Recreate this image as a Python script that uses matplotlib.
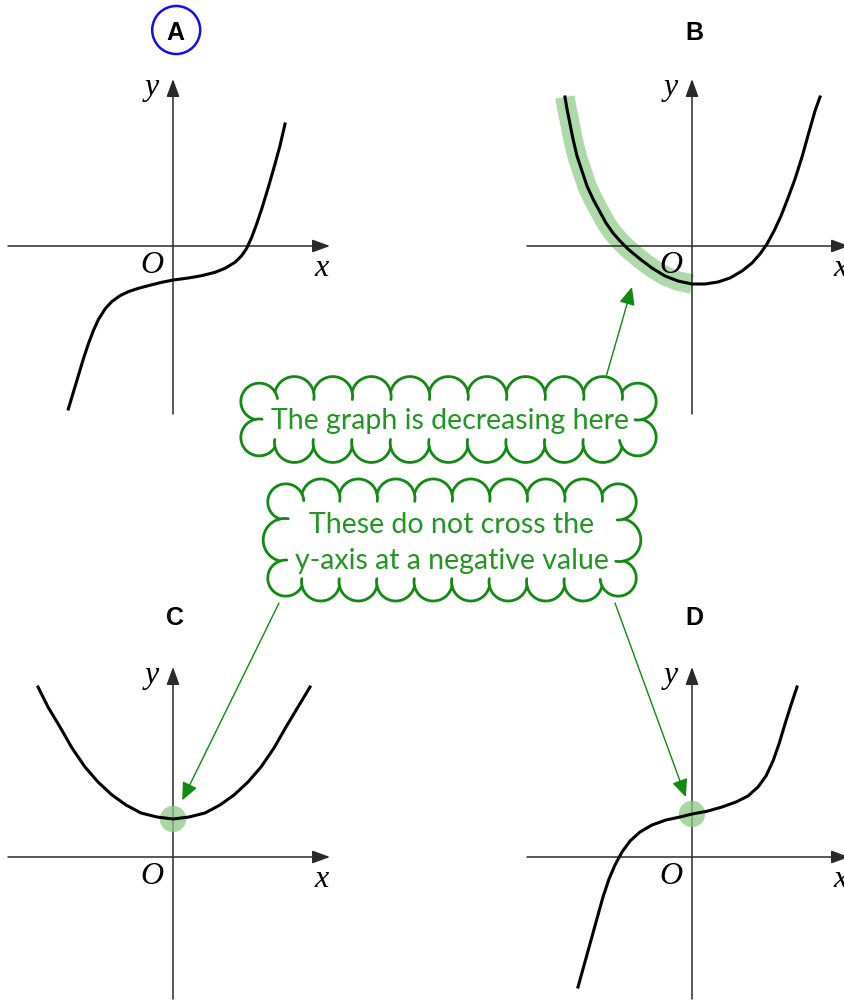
import matplotlib
matplotlib.use("Agg")
import matplotlib.pyplot as plt
import numpy as np
from matplotlib.patches import Circle

W, H = 845, 1003
PX_PER_UNIT = 40

# curve points (units: 40 px, origin where the axes cross)
a_x = [-2.617, -2.492, -2.367, -2.242, -2.117, -1.992, -1.867, -1.7, -1.533, -1.325,
       -1.117, -0.867, -0.617, -0.283, 0.008, 0.383, 0.717, 1.05, 1.3, 1.55,
       1.717, 1.842, 1.967, 2.092, 2.217, 2.383, 2.55, 2.675, 2.8]
a_y = [-4.075, -3.658, -3.242, -2.825, -2.45, -2.117, -1.842, -1.575, -1.392, -1.242,
       -1.142, -1.058, -0.992, -0.908, -0.85, -0.8, -0.742, -0.658, -0.558, -0.408,
       -0.242, -0.058, 0.217, 0.55, 0.925, 1.467, 2.05, 2.508, 3.05]

b_x = [-3.175, -3.125, -3.05, -2.975, -2.875, -2.75, -2.625, -2.475, -2.3, -2.15,
       -1.975, -1.8, -1.6, -1.3, -1.0, -0.675, -0.35, 0.0, 0.325, 0.65,
       0.95, 1.25, 1.5, 1.7, 1.875, 2.05, 2.225, 2.4, 2.575, 2.75,
       2.925, 3.075, 3.2]
b_y = [3.725, 3.425, 3.05, 2.675, 2.25, 1.875, 1.5, 1.175, 0.85, 0.575,
       0.325, 0.125, -0.075, -0.325, -0.55, -0.75, -0.875, -0.95, -0.95, -0.9,
       -0.8, -0.625, -0.425, -0.2, 0.05, 0.375, 0.75, 1.2, 1.675, 2.225,
       2.85, 3.375, 3.725]
b_decreasing = 18  # points up to the y-axis

c_x = [-3.375, -3.125, -2.825, -2.525, -2.2, -1.875, -1.525, -1.175, -0.8, -0.4, 0.0,
       0.4, 0.8, 1.175, 1.525, 1.875, 2.2, 2.525, 2.825, 3.125, 3.425]
c_y = [4.25, 3.75, 3.25, 2.725, 2.25, 1.875, 1.55, 1.3, 1.1, 1.0, 0.95,
       1.0, 1.1, 1.3, 1.55, 1.875, 2.25, 2.725, 3.25, 3.75, 4.25]

d_x = [-2.85, -2.725, -2.6, -2.475, -2.35, -2.225, -2.075, -1.925, -1.75, -1.55,
       -1.3, -1.0, -0.65, -0.3, 0.0, 0.4, 0.75, 1.1, 1.4, 1.65,
       1.85, 2.025, 2.175, 2.325, 2.475, 2.625]
d_y = [-3.25, -2.8, -2.35, -1.9, -1.45, -1.0, -0.55, -0.2, 0.125, 0.4,
       0.625, 0.8, 0.925, 1.0, 1.075, 1.15, 1.25, 1.375, 1.525, 1.75,
       2.025, 2.4, 2.825, 3.325, 3.8, 4.25]

c_intercept = (0.0, 0.95)
d_intercept = (0.0, 1.075)
b_pointer = 13  # index on curve B that the first callout points at

labels = ["A", "B", "C", "D"]
cloud1_text = "The graph is decreasing here"
cloud2_text = "These do not cross the\ny-axis at a negative value"

GREEN = "#108a10"
TEXT_GREEN = "#229622"
HILITE = "#8cc985"
SERIF = ["Liberation Serif", "DejaVu Serif"]
CLOUD_FONT = ["Lato", "DejaVu Sans"]


def panel_axes(fig, ox, oy):
    left = ox - 4.5 * PX_PER_UNIT
    bottom = oy + 4.5 * PX_PER_UNIT
    ax = fig.add_axes([left / W, (H - bottom) / H, 9 * PX_PER_UNIT / W, 11 * PX_PER_UNIT / H])
    ax.set_xlim(-4.5, 4.5)
    ax.set_ylim(-4.5, 6.5)
    ax.axis("off")
    return ax


def draw_axes(ax, y_lo, y_hi):
    style = "-|>,head_length=0.9,head_width=0.33"
    kw = dict(arrowstyle=style, color="#2a2a2a", lw=1.1, mutation_scale=12, shrinkA=0, shrinkB=0)
    ax.annotate("", xy=(3.925, 0), xytext=(-4.125, 0), arrowprops=kw, zorder=3)
    ax.annotate("", xy=(0, y_hi), xytext=(0, y_lo), arrowprops=kw, zorder=3)
    ax.text(-0.53, y_hi - 0.2, "y", fontsize=23, style="italic", family=SERIF,
            ha="center", va="center", zorder=4)
    ax.text(-0.53, -0.47, "O", fontsize=23, style="italic", family=SERIF,
            ha="center", va="center", zorder=4)
    ax.text(3.72, -0.55, "x", fontsize=23, style="italic", family=SERIF,
            ha="center", va="center", zorder=4, clip_on=False)


def bump(ax, p, q, bulge, centre, tail_deg=22):
    p, q, centre = np.asarray(p, float), np.asarray(q, float), np.asarray(centre, float)
    m = (p + q) / 2
    d = q - p
    c = np.hypot(*d)
    t = d / c
    n = np.array([-t[1], t[0]])
    if np.dot(n, m - centre) < 0:
        n = -n
    h = c / 2
    s = bulge * c
    r = (h * h + s * s) / (2 * s)
    cc = m + n * (s - r)
    a_p = np.arctan2(*(p - cc)[::-1])
    a_q = np.arctan2(*(q - cc)[::-1])
    a_n = np.arctan2(n[1], n[0])
    sweep = (a_q - a_p) % (2 * np.pi)
    if (a_n - a_p) % (2 * np.pi) > sweep:
        sweep = sweep - 2 * np.pi
    sweep += np.sign(sweep) * np.radians(tail_deg)
    ang = a_p + np.linspace(0, sweep, 80)
    ax.plot(cc[0] + r * np.cos(ang), cc[1] + r * np.sin(ang), color=GREEN, lw=2.0,
            solid_capstyle="round", zorder=6)


def cloud(ax, x0, y0, x1, y1, dx, dy, nt, ns):
    top = [(x, y0) for x in np.linspace(x0 + dx, x1 - dx, nt + 1)]
    right = [(x1, y) for y in np.linspace(y0 + dy, y1 - dy, ns + 1)]
    bottom = [(x, y1) for x, _ in top[::-1]]
    left = [(x0, y) for _, y in right[::-1]]
    groups = [top, right, bottom, left]
    centre = ((x0 + x1) / 2, (y0 + y1) / 2)
    for gi, g in enumerate(groups):
        for p, q in zip(g[:-1], g[1:]):
            bump(ax, p, q, 0.4, centre)
        nxt = groups[(gi + 1) % 4][0]
        bump(ax, g[-1], nxt, 0.75, centre)


fig = plt.figure(figsize=(W / 100, H / 100), dpi=100)

origins = [(173, 247), (692, 247), (173, 858), (692, 858)]
axes = [panel_axes(fig, ox, oy) for ox, oy in origins]
ax_a, ax_b, ax_c, ax_d = axes

for ax, lab, top_row in zip(axes, labels, [True, True, False, False]):
    if top_row:
        draw_axes(ax, -4.2, 4.175)
        ty = 5.35
    else:
        draw_axes(ax, -3.55, 4.75)
        ty = 6.0
    ax.text(0.05, ty, lab, fontsize=18, fontweight="bold", family=["Liberation Sans", "DejaVu Sans"],
            ha="center", va="center", clip_on=False)
    if lab == "A":
        ax.add_patch(Circle((0.08, ty + 0.05), 0.6, fill=False, ec="#1010ee", lw=1.8, clip_on=False))

ax_a.plot(a_x, a_y, color="black", lw=2.2, zorder=5)
ax_b.plot(b_x[:b_decreasing], b_y[:b_decreasing], color=HILITE, lw=14, alpha=0.7,
          solid_capstyle="butt", zorder=2)
ax_b.plot(b_x, b_y, color="black", lw=2.2, zorder=5)
ax_c.plot(c_x, c_y, color="black", lw=2.2, zorder=5)
ax_d.plot(d_x, d_y, color="black", lw=2.2, zorder=5)

for ax, pt in [(ax_c, c_intercept), (ax_d, d_intercept)]:
    ax.add_patch(Circle(pt, 0.33, color=HILITE, alpha=0.75, lw=0, zorder=4))

# overlay in pixel space for the callouts
ov = fig.add_axes([0, 0, 1, 1], zorder=10)
ov.set_xlim(0, W)
ov.set_ylim(H, 0)
ov.axis("off")
ov.patch.set_alpha(0)

cloud(ov, 255, 393, 642, 448, 20, 27.5, 9, 0)
cloud(ov, 280, 495, 624, 587, 22, 25, 8, 1)

ov.text(450, 421, cloud1_text, fontsize=20.5, color=TEXT_GREEN, family=CLOUD_FONT,
        ha="center", va="center", zorder=7)
ov.text(452, 543, cloud2_text, fontsize=20.5, color=TEXT_GREEN, family=CLOUD_FONT,
        ha="center", va="center", linespacing=1.5, zorder=7)

arrow_kw = dict(arrowstyle="-|>,head_length=0.9,head_width=0.4", color=GREEN, lw=1.0,
                mutation_scale=12, shrinkA=0)
ov.annotate("", xy=(b_x[b_pointer], b_y[b_pointer]), xycoords=ax_b.transData,
            xytext=(606, 378), textcoords="data", arrowprops=dict(shrinkB=21, **arrow_kw))
ov.annotate("", xy=c_intercept, xycoords=ax_c.transData,
            xytext=(279, 604), textcoords="data", arrowprops=dict(shrinkB=15, **arrow_kw))
ov.annotate("", xy=d_intercept, xycoords=ax_d.transData,
            xytext=(615, 604), textcoords="data", arrowprops=dict(shrinkB=13, **arrow_kw))

fig.savefig("out.png", dpi=100)
